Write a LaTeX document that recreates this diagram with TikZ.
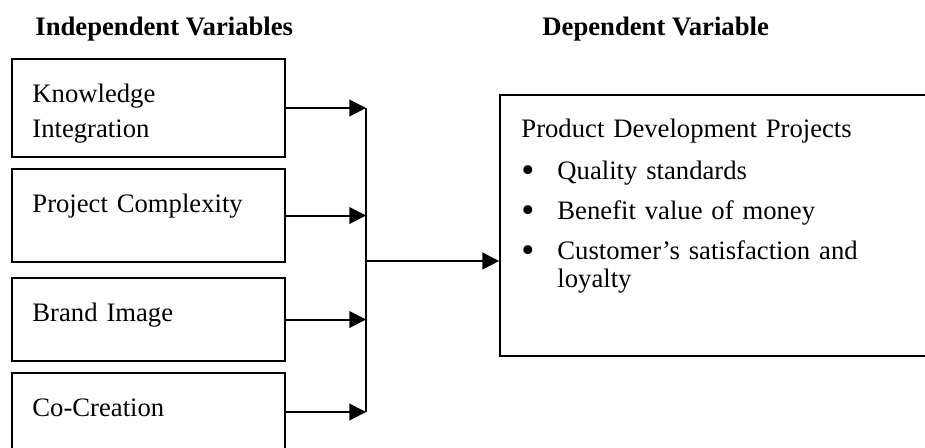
\documentclass[tikz,border=0pt]{standalone}
\usepackage{fontspec}
\setmainfont{Liberation Serif}
\usepackage{tikz}
\usetikzlibrary{arrows.meta}
\usetikzlibrary{fit}
\usetikzlibrary{positioning}

\newcommand{\itemdot}{\makebox[16.2pt][l]{\raisebox{-1.4pt}{\scalebox{1.4}{\textbullet}}}}

\tikzset{
  varbox/.style={draw,rectangle,line width=0.8pt,inner sep=0pt},
  vartext/.style={anchor=base west,inner sep=0pt,align=left,text width=150pt,
    font=\fontsize{12}{15.75}\selectfont},
  listtext/.style={anchor=base west,inner sep=0pt,align=left,text width=200pt,
    font=\fontsize{12}{12.6}\selectfont},
  head/.style={anchor=base west,inner sep=0pt,font=\fontsize{12}{14}\selectfont\bfseries},
  link/.style={line width=0.9pt,-{Triangle[length=7.5pt,width=7.5pt]}},
}

\begin{document}
\begin{tikzpicture}[x=0.45pt,y=-0.45pt]

  \useasboundingbox (0,0) rectangle (925,447);
  \clip (0,0) rectangle (925,447);

  \node [head] (indep) at (35,35) {Independent Variables};
  \node [head] (dep) at (542,35) {Dependent Variable};

  \foreach \name/\top/\bot/\lab in {ki/59/157/{Knowledge\\Integration},
      pc/169/262/{Project Complexity}, bi/278/361/{Brand Image},
      cc/373/451/{Co-Creation}} {
    \node [varbox,fit={(12,\top) (285,\bot)}] (\name) {};
    \node [vartext] (\name-lab) at (32,\top+43) {\lab};
  }

  \node [varbox,fit={(500,95) (960,356)}] (pdp) {};
  \node [listtext] (pdp-lab) at (521,137) {Product Development Projects\\[6.3pt]
    \itemdot Quality standards\\[5.4pt]
    \itemdot Benefit value of money\\[5.4pt]
    \itemdot Customer’s satisfaction and\\
    \makebox[16.2pt][l]{}loyalty};

  \coordinate (bus) at (366,261);

  \foreach \name in {ki,pc,bi,cc}
    \draw [link] (\name.east) -- (\name.east -| bus);
  \draw [line width=0.9pt] (ki.east -| bus) -- (cc.east -| bus);
  \draw [link] (bus) -- (bus -| pdp.west);

\end{tikzpicture}
\end{document}
